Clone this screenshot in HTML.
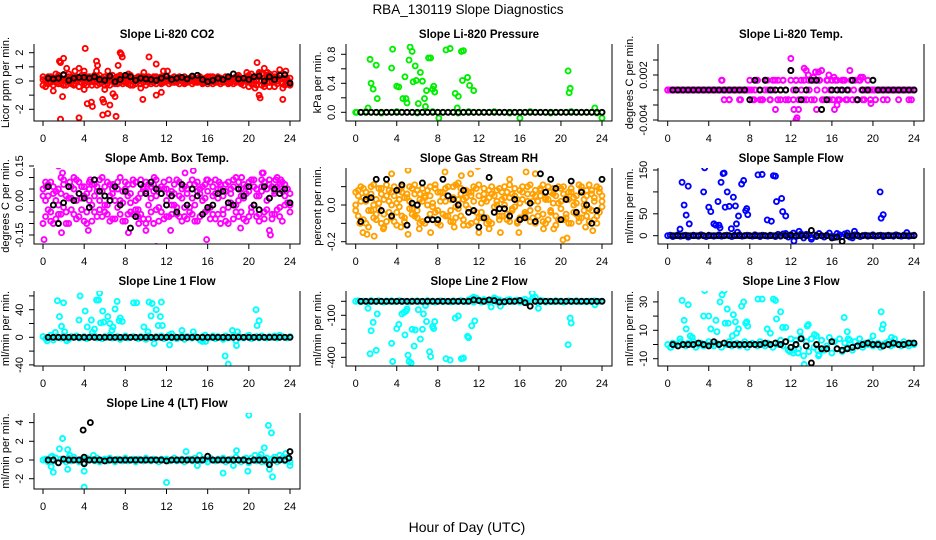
<!DOCTYPE html>
<html><head><meta charset="utf-8"><title>RBA_130119 Slope Diagnostics</title>
<style>
html,body{margin:0;padding:0;background:#fff;}
svg{display:block;font-family:"Liberation Sans",Arial,sans-serif;}
</style></head>
<body>
<svg id="chart" width="936" height="540" viewBox="0 0 936 540">
<text x="468" y="14" text-anchor="middle" font-size="13.5">RBA_130119  Slope Diagnostics</text>
<text x="467" y="532" text-anchor="middle" font-size="14">Hour of Day (UTC)</text>
</svg>
<script>
// ---------- shared data ----------
const xTicks = [0,4,8,12,16,20,24];
const blackHours = [0.5,1,1.5,2,2.5,3,3.5,4,4.5,5,5.5,6,6.5,7,7.5,8,8.5,9,9.5,10,10.5,11,11.5,12,12.5,13,13.5,14,14.5,15,15.5,16,16.5,17,17.5,18,18.5,19,19.5,20,20.5,21,21.5,22,22.5,23,23.5,24];

// ---------- P1 CO2 ----------
const p1Band = [-0.3,0.1,-0.2,0.3,0.2,-0.1,0.4,0.0,-0.3,0.2,0.5,-0.2,0.1,0.3,-0.4,0.2,0.0,0.3,-0.1,0.2,0.4,-0.3,0.1,0.2,0.0,-0.2,0.3,0.1,-0.1,0.2,0.4,-0.2,0.0,0.3,0.1,-0.3,0.2,0.0,0.3,-0.1,0.1,0.2,-0.2,0.3,0.0,0.1,-0.1,0.2,0.1,0.0,0.2,-0.1,0.1,0.2,0.0,-0.1,0.1,0.2,0.0,0.1,-0.1,0.2,0.0,0.1,0.3,-0.1,0.0,0.2,0.1,-0.2,0.1,0.0,0.2,-0.1,0.1,0.3,0.0,-0.1,0.2,0.1,0.4,-0.2,0.3,0.1,0.5,-0.3,0.2,0.4,-0.1,0.3,0.1,-0.2,0.4,0.2,-0.3,0.1,-0.2];
const p1Band2 = [0.1,-0.4,0.3,-0.1,0.0,0.5,-0.2,0.2,0.1,-0.3,0.3,0.0,-0.2,0.2,0.1,-0.1,0.4,-0.3,0.2,0.0,-0.1,0.3,-0.2,0.1,0.3,0.0,-0.3,0.2,0.1,-0.2,0.3,0.0,-0.1,0.2,-0.3,0.1,0.0,0.2,-0.2,0.3,0.0,-0.1,0.2,0.1,-0.2,0.0,0.3,-0.1,0.1,-0.2,0.2,0.0,-0.1,0.3,0.1,-0.2,0.0,0.1,-0.2,0.2,0.0,0.1,-0.1,0.2,-0.2,0.1,0.3,0.0,-0.1,0.2,0.0,0.1,-0.2,0.2,0.0,-0.1,0.3,0.1,-0.3,0.2,0.0,0.5,-0.2,0.3,0.6,0.0,-0.4,0.2,0.5,-0.1,0.3,0.0,0.4,-0.2,0.2,0.0,-0.3];
const p1Band3 = [0.3,0.0,-0.1,0.2,-0.3,0.1,0.3,-0.2,0.4,0.0,-0.1,0.3,-0.3,0.0,0.2,0.4,-0.2,0.1,0.3,-0.3,0.2,0.1,0.4,-0.1,-0.3,0.2,0.0,0.4,-0.2,0.3,-0.1,0.2,0.3,-0.2,0.4,0.0,-0.2,0.3,0.1,0.2,-0.3,0.3,0.0,-0.1,0.3,0.2,-0.2,0.0,0.3,0.2,-0.1,0.3,0.0,-0.2,0.2,0.3,-0.1,0.0,0.3,-0.1,0.2,0.3,-0.2,0.0,0.1,0.3,-0.2,-0.1,0.3,0.2,-0.1,0.3,-0.1,0.2,-0.2,0.0,0.4,-0.2,0.0,0.3,-0.4,0.2,0.0,-0.3,0.3,0.5,-0.2,-0.1,0.4,0.0,-0.4,0.3,0.1,-0.1,0.4,-0.2,0.2];
const p1OutHours = [1.7,1.6,2.0,1.0,1.9,1.7,2.3,3.1,3.5,3.5,4.1,4.0,4.3,4.7,4.8,4.0,5.2,5.3,5.2,5.8,5.9,6.0,5.8,6.3,6.3,6.5,6.8,7.0,7.1,7.3,7.5,7.6,7.7,8.3,9.5,9.7,9.8,10.3,11.0,11.0,11.5,11.7,12.1,20.8,21.0,21.1,20.6,21.5,21.8,22.5,23.0,23.3,23.3,22.0,23.6,19.8];
const p1OutVals = [1.3,1.4,1.6,-0.7,-1.1,-2.7,0.9,0.7,0.9,-2.6,2.3,0.7,-1.6,-1.5,-1.8,-0.6,1.4,1.1,0.7,-1.3,-1.5,-0.6,-2.4,-2.3,0.7,-1.7,-0.9,-1.1,-2.5,1.1,2.0,1.9,1.7,0.5,-0.5,-1.3,0.6,1.7,1.2,-1.0,-0.8,0.7,0.7,1.3,-1.0,-1.2,-0.5,0.9,0.6,0.5,0.8,-1.3,-0.5,-0.4,0.7,0.6];
const p1Black = [0.2,0.15,0.2,0.45,0.05,0.2,0.25,0.25,0.2,0.3,0.1,0.05,0.35,-0.05,0.1,0.4,0.3,0.05,0.2,0.15,0.1,0.05,0.2,0.35,0.1,0.2,0.25,0.15,0.35,0.4,0.1,-0.05,0.05,0.2,0.1,0.3,0.5,0.15,0.2,0.1,0.3,0.35,0.0,0.3,0.1,0.4,0.45,-0.15];

// ---------- P2 Pressure ----------
const p2Band = [0,0,0.01,0,0,-0.01,0,0,0.01,0,0,0,-0.01,0,0,0.01,0,0,0,0,-0.01,0,0.01,0,0,0,0,0.01,0,0,-0.01,0,0,0,0.01,0,0,0,-0.01,0,0,0,0.01,0,0,0,0,-0.01,0];
const p2OutHours = [0.1,1.2,1.4,1.5,1.7,2.0,2.1,3.5,3.6,4.0,4.2,4.6,4.8,4.9,5.0,5.2,5.3,5.5,5.6,5.8,5.9,6.1,6.3,6.5,6.7,6.8,6.9,7.1,7.3,7.5,7.6,7.7,8.1,8.8,9.2,9.7,9.9,10.0,10.3,10.4,10.5,10.9,11.1,11.5,16.0,20.7,20.8,20.9,23.3,24.0];
const p2OutVals = [0.0,0.06,0.73,0.4,0.32,0.65,0.19,0.61,0.87,0.36,0.35,0.19,0.49,0.19,0.13,0.72,0.9,0.84,0.42,0.64,0.44,0.12,0.55,0.43,0.19,0.08,0.3,0.75,0.75,0.32,0.36,0.28,-0.08,0.86,0.88,0.26,0.06,0.22,0.84,0.44,0.85,0.48,0.37,0.3,-0.08,0.57,0.27,0.33,0.06,-0.08];
const p2Black = [0,0,0,0,0,0,0,0,0,0,0,0,0,0,0,0,0,0,0,0,0,0,0,0,0,0,0,0,0,0,0,0,0,0,0,0,0,0,0,0,0,0,0,0,0,0,0,0];

// ---------- P3 Li-820 Temp ----------
const p3Band = [0,0,0,0,0,0,0,0,0,0,0,0,0,0,0,0,0,0,0,0,0,0.0013,-0.0013,0,-0.0013,0,0,0,-0.0013,0,0,0,
0.0013,-0.0013,0,0.0013,-0.0013,-0.0013,0.0013,0,-0.0013,0.0013,-0.0026,0.0013,-0.0013,0.0013,0,-0.0013,0.0026,-0.0013,0.0013,-0.0026,0.0013,-0.0013,0.0026,0.0013,-0.0013,0.0013,-0.0026,0.0013,0.0026,-0.0013,0.0013,-0.0013,0.0013,-0.0026,0.0013,-0.0013,0.0013,0.0013,-0.0013,0.0026,-0.0013,0.0013,-0.0013,0.0013,-0.0013,0,0.0013,-0.0013,0,
-0.0013,0,0,-0.0013,0,0,0,0,0,-0.0013,0,0,0,0,-0.0013,0];
const p3Band2 = [0,0,0,0,0,0,0,0,0,0,0,0,0,0,0,0,0,0,0,0,0,0,0,0,0,0,0,0,0,0,0,0,
0,-0.0013,0.0013,0,-0.0013,0,0.0013,-0.0013,0,0.0013,-0.0013,0,0.0013,-0.0013,-0.0013,0.0013,0,0.0013,-0.0013,0,0.0013,-0.0013,0,0.0013,-0.0013,0,0.0013,-0.0013,0,0.0013,0,-0.0013,0.0013,-0.0013,0,0.0013,-0.0013,0,0.0013,0,-0.0013,0.0013,0,-0.0013,0,0,0,
0,0,0,0,0,0,0,0,0,0,0,0,0,0,0,0];
const p3OutHours = [12.0,13.3,14.4,14.7,13.7,12.3,12.6,12.5,19.8,18.8,19.0,21.4,23.5,16.2,14.2,15.7,16.5,5.3,6.0,7.1];
const p3OutVals = [0.0042,0.0029,0.0024,0.0024,0.002,-0.0026,-0.0037,-0.004,-0.0018,0.0017,0.0017,-0.0013,-0.0013,0.0017,0.0017,0.002,-0.002,0.0013,-0.0013,-0.0013];
const p3Black = [0,0,0,0,0,0,0,0,0,0,0,0,0,0,0,-0.0013,0.0013,0,0.0013,0,0,0,0,0.0026,0,-0.0013,0,0.0013,0.0013,-0.0026,-0.0013,0,0,0,0,0.0013,-0.0013,0,0,0.0013,0,0,0,0,0,0,0,0];

// ---------- P4 Amb Box Temp ----------
const p4Band = [-0.1,0.0,0.07,-0.05,0.03,-0.08,0.05,0.1,-0.03,0.02,-0.1,0.06,-0.06,0.0,0.08,-0.04,-0.09,0.03,0.05,-0.02,0.07,-0.07,0.0,0.04,-0.05,0.08,0.02,-0.08,0.06,-0.03,0.1,-0.01,0.05,-0.06,0.03,0.07,-0.04,0.01,0.09,-0.08,0.04,-0.02,0.06,-0.1,0.02,0.05,-0.05,0.08,0.0,-0.07,0.04,0.07,-0.03,0.02,-0.09,0.06,0.03,-0.05,0.09,-0.02,0.04,-0.07,0.06,0.01,-0.04,0.08,-0.06,0.03,0.05,-0.1,0.02,0.07,-0.03,0.05,-0.08,0.1,0.0,-0.05,0.07,0.03,-0.07,0.09,-0.02,0.05,-0.09,0.04,0.08,-0.04,0.01,0.06,-0.06,0.1,-0.03,0.04,0.07,-0.01,0.03];
const p4Band2 = [0.05,-0.07,0.02,0.08,-0.1,0.04,-0.02,-0.06,0.09,-0.05,0.06,0.01,0.1,-0.08,0.03,0.06,0.02,-0.1,0.0,0.07,-0.05,0.04,0.09,-0.07,0.06,-0.02,-0.09,0.05,0.0,0.08,-0.06,0.04,-0.09,0.07,-0.01,-0.06,0.08,-0.07,0.03,0.05,-0.1,0.07,-0.05,0.04,0.09,-0.03,0.06,-0.08,0.05,0.03,-0.06,-0.02,0.09,-0.07,0.05,-0.03,-0.08,0.07,0.01,-0.09,0.08,0.03,-0.06,0.07,0.04,-0.08,0.02,0.09,-0.06,0.05,-0.04,-0.09,0.08,-0.01,0.06,-0.05,0.08,0.02,-0.08,0.06,0.04,-0.05,0.09,-0.07,0.02,0.06,-0.08,0.05,0.09,-0.06,0.03,-0.04,0.07,-0.09,0.02,0.05,-0.02];
const p4Band3 = [0.02,0.08,-0.04,-0.09,0.06,0.0,-0.06,0.03,0.07,-0.1,0.01,-0.04,0.05,0.09,-0.07,0.01,0.06,-0.05,0.08,-0.09,0.02,0.06,-0.04,0.1,-0.02,-0.06,0.07,0.03,-0.08,0.05,0.0,-0.09,0.08,0.02,-0.05,0.09,0.0,-0.04,-0.06,0.06,0.08,-0.08,0.01,0.07,-0.04,-0.09,0.03,0.05,-0.07,0.09,-0.02,0.03,-0.06,0.08,0.01,-0.07,0.05,-0.03,-0.06,0.07,-0.09,0.05,0.0,-0.05,0.09,-0.03,0.06,-0.08,0.01,0.07,-0.06,0.04,-0.1,0.03,0.09,-0.02,-0.07,0.05,0.01,-0.09,0.08,-0.03,0.06,0.02,-0.06,0.09,-0.05,0.0,0.07,-0.08,0.04,0.06,-0.07,0.08,-0.02,0.05,-0.05];
const p4OutHours = [0.1,1.5,1.8,1.9,4.4,4.6,8.3,10.0,10.8,11.0,12.4,14.6,15.9,15.9,19.2,19.3,21.3,21.4,22.0,22.1,22.6,13.8,0.3,2.6,6.8,9.3,17.1,23.1];
const p4OutVals = [-0.17,0.15,-0.14,0.12,-0.13,0.09,-0.14,-0.13,0.1,-0.2,-0.13,0.13,-0.17,0.09,-0.12,0.1,0.12,0.12,-0.13,-0.15,0.09,0.12,0.06,0.08,0.07,-0.1,0.08,0.09];
const p4Black = [0.06,-0.02,-0.1,-0.01,0.06,0.0,0.03,0.01,-0.03,0.09,0.04,0.02,0.0,0.06,-0.02,0.04,-0.12,-0.07,0.07,0.03,0.08,0.05,0.03,-0.02,0.02,-0.05,0.07,-0.02,0.05,0.02,-0.06,-0.03,-0.02,0.03,0.04,-0.01,-0.02,0.05,0.02,0.06,-0.02,-0.04,0.06,0.01,0.05,0.03,0.05,-0.01];

// ---------- P5 Gas Stream RH ----------
const p5Band = [-0.03,0.05,0.1,-0.08,0.02,-0.12,0.06,0.0,-0.05,0.09,-0.1,0.03,0.11,-0.04,0.07,-0.09,0.01,0.08,-0.06,0.04,-0.11,0.1,-0.02,0.06,-0.07,0.03,0.09,-0.1,0.0,0.05,-0.08,0.11,-0.03,0.07,-0.05,0.02,0.1,-0.09,0.04,-0.01,0.12,-0.06,0.03,0.08,-0.11,0.05,-0.03,0.09,-0.07,0.01,0.06,-0.1,0.04,0.1,-0.04,0.02,-0.08,0.07,0.0,-0.05,0.11,-0.02,0.05,-0.09,0.08,0.03,-0.06,0.1,-0.03,0.06,-0.1,0.02,0.09,-0.05,0.04,-0.08,0.07,0.01,-0.11,0.1,-0.02,0.06,-0.07,0.03,0.09,-0.04,0.05,-0.09,0.08,0.0,-0.06,0.11,-0.03,0.04,-0.1,0.07,0.02];
const p5Band2 = [0.07,-0.06,0.02,0.09,-0.1,0.04,-0.03,0.11,-0.08,0.01,0.06,-0.05,-0.09,0.08,0.0,0.05,-0.11,0.03,0.1,-0.07,0.04,-0.02,0.09,-0.06,0.08,-0.1,0.02,0.05,-0.08,0.1,0.01,-0.04,0.07,-0.11,0.04,0.09,-0.06,0.03,-0.09,0.11,-0.02,0.06,-0.08,0.0,0.07,-0.1,0.1,-0.04,0.05,-0.07,0.09,0.02,-0.09,0.06,-0.01,0.08,-0.06,0.03,0.1,-0.08,0.04,-0.03,0.09,-0.1,0.01,0.07,-0.05,0.02,0.11,-0.07,0.05,-0.02,0.08,-0.09,0.03,0.1,-0.04,0.06,-0.06,0.01,0.09,-0.08,0.04,-0.1,0.07,0.0,-0.05,0.11,-0.07,0.03,0.08,-0.02,0.06,-0.08,0.1,-0.04,0.05];
const p5Band3 = [0.0,0.08,-0.1,0.04,0.07,-0.03,0.1,-0.07,0.03,-0.02,0.09,-0.12,0.05,0.02,-0.07,0.1,-0.04,-0.01,0.07,-0.09,0.06,0.02,-0.05,0.11,-0.03,0.06,-0.09,0.04,0.08,-0.05,-0.01,0.09,-0.1,0.02,0.07,-0.06,0.05,-0.03,0.1,-0.07,0.03,0.09,-0.11,0.04,-0.02,0.07,0.02,-0.09,0.11,-0.04,0.03,-0.07,0.08,-0.1,0.05,0.0,0.09,-0.06,0.04,0.07,-0.09,0.06,-0.01,0.03,-0.07,0.1,-0.04,0.06,-0.09,0.02,0.08,-0.06,0.05,0.11,-0.1,0.03,-0.03,0.09,0.05,-0.08,0.02,0.1,-0.05,0.07,-0.1,0.04,0.01,-0.07,0.1,-0.03,0.05,-0.09,0.08,0.02,-0.06,0.09,-0.01];
const p5OutHours = [0.4,0.7,1.1,1.8,2.7,3.5,4.4,5.1,5.1,6.2,7.3,8.7,9.6,10.3,11.2,11.9,12.0,12.8,13.0,14.1,15.0,15.9,16.6,17.5,18.3,19.3,20.2,20.6,20.9,22.4,23.1];
const p5OutVals = [-0.1,-0.15,-0.16,-0.17,-0.13,0.17,-0.12,0.19,-0.16,-0.13,-0.15,0.18,-0.12,0.16,0.17,0.21,-0.15,-0.24,-0.13,-0.15,0.14,-0.15,0.18,0.17,-0.13,-0.13,-0.19,-0.18,0.24,-0.12,-0.14];
const p5Black = [-0.09,0.03,0.04,0.14,-0.03,0.14,-0.06,0.08,0.11,-0.11,0.01,0.0,0.12,-0.08,-0.08,-0.08,0.14,0.05,0.03,0.0,0.08,-0.04,-0.03,-0.12,-0.07,0.15,-0.04,-0.02,-0.02,-0.06,0.03,-0.08,-0.07,0.01,-0.09,0.17,0.07,0.14,0.09,-0.08,0.03,0.13,-0.04,0.07,0.0,-0.1,-0.03,0.14];

// ---------- P6 Sample Flow ----------
const p6Band = [0,1,-2,0,2,-1,0,1,-3,0,1,0,-1,2,0,-2,1,0,-1,0,2,-1,0,1,0,-2,1,0,2,-1,0,1,0,-1,2,0,-2,1,0,-1,1,0,-2,3,-1,4,5,-3,2,6,-2,0,4,-5,3,1,-4,2,-2,5,0,-3,1,6,-1,-4,5,2,-2,4,6,-3,-5,2,1,-2,0,1,-1,0,2,-1,0,1,-2,0,1,0,-1,2,0,-1,1,0,-1,0,1];
const p6OutHours = [1.2,1.4,1.6,1.8,2.0,2.1,3.5,3.6,4.0,4.2,4.5,4.7,4.9,5.0,5.1,5.2,5.4,5.5,5.6,5.8,6.0,6.2,6.4,6.6,6.7,6.8,6.9,7.2,7.4,7.6,7.7,7.8,8.8,9.2,9.7,10.1,10.3,10.5,10.6,11.1,11.2,11.5,12.3,12.8,14.0,18.2,20.7,20.8,21.0,23.3];
const p6OutVals = [15,122,70,47,113,27,100,155,65,55,27,24,78,24,18,122,142,143,65,100,67,16,88,68,27,8,45,118,126,57,62,48,139,140,36,33,137,136,78,85,55,45,-12,10,-8,10,100,40,48,7];
const p6Black = [0,0,0,0,0,0,0,0,0,0,0,0,0,0,0,0,0,0,0,0,0,0,0,1,0,0,0,12,0,0,0,-5,-3,-13,0,0,0,0,0,0,0,0,0,0,0,0,0,0];

// ---------- P7 Line 1 Flow ----------
const p7Band = [1,-2,0,3,-4,1,0,-1,2,0,-3,1,0,2,-1,0,1,-2,0,1,2,-1,0,-2,1,0,3,-1,0,1,-3,0,2,-1,0,1,0,-2,1,0,-3,2,0,-1,1,0,2,-2,0,3,-1,1,-2,0,2,-3,1,0,-1,2,0,-4,1,3,-1,0,2,-2,1,0,-3,2,-1,0,1,-5,2,0,-1,1,3,-2,0,1,-1,2,0,-1,1,0,2,-1,0,1,0,-1,1];
const p7OutHours = [0.4,1.2,1.4,1.6,1.8,2.0,2.1,2.3,3.5,3.6,4.1,4.3,4.7,4.8,5.0,5.2,5.4,5.5,5.6,5.8,5.9,6.3,6.5,6.7,6.8,7.0,7.2,7.4,7.5,7.7,8.8,9.1,9.8,10.2,10.3,10.5,10.6,10.8,11.0,11.2,11.4,11.5,11.6,12.3,12.5,13.5,14.6,15.5,15.8,17.7,18.0,18.4,18.8,18.9,20.7,20.8,21.0,23.0];
const p7OutVals = [-5,7,53,30,16,50,8,-5,25,60,38,15,25,7,12,54,54,64,21,38,22,30,20,10,15,41,52,24,28,23,50,50,15,8,51,31,49,-9,40,17,30,51,17,-11,5,10,8,-6,-6,-27,-39,10,-12,8,40,17,24,3];
const p7Black = [0,0,0,0,0,0,0,0,0,0,0,0,0,0,0,0,0,0,0,0,0,0,0,0,0,0,0,0,0,0,0,0,0,0,0,0,0,0,0,0,0,0,0,0,0,0,0,0];

// ---------- P8 Line 2 Flow ----------
const p8Band = [0,3,-4,2,0,-3,5,0,-2,4,0,-5,2,0,3,-2,0,4,-3,1,0,-4,2,0,3,-1,0,-3,4,0,2,-5,0,3,-2,1,0,-4,3,0,-2,5,0,-3,10,15,-6,20,8,-5,12,4,-8,6,14,-4,10,2,-6,8,12,-3,5,9,-5,7,15,-8,4,22,30,-10,6,3,-5,2,0,-3,4,0,2,-5,0,3,-2,0,4,-3,1,0,-4,2,0,3,-1,0,2];
const p8OutHours = [1.2,1.4,1.5,1.7,2.0,2.1,3.5,3.6,4.0,4.2,4.5,4.7,4.8,4.9,5.0,5.1,5.2,5.4,5.5,5.7,5.8,6.1,6.3,6.5,6.6,6.8,6.9,7.2,7.3,7.5,7.6,7.7,8.8,9.2,9.7,10.0,10.3,10.5,10.9,11.0,11.3,11.6,11.8,13.2,13.7,14.1,17.2,17.8,20.7,20.9,21.0,23.3,11.3,11.5,13.5];
const p8OutVals = [-50,-375,-210,-150,-350,-90,-300,-430,-195,-165,-90,-80,-240,-70,-55,-385,-430,-440,-200,-320,-205,-60,-270,-200,-90,-30,-145,-360,-395,-180,-195,-145,-410,-420,-120,-105,-410,-405,-250,-260,-175,-140,20,-40,15,-35,60,-50,-310,-120,-155,-25,20,30,25];
const p8Black = [0,0,0,0,0,0,0,0,0,0,0,0,0,0,0,0,0,0,0,0,0,0,10,5,0,10,5,-5,-3,0,0,5,-10,-35,0,0,0,0,0,0,0,0,0,0,0,0,0,0];

// ---------- P9 Line 3 Flow ----------
const p9Band = [0,-2,1,0,-1,2,0,-1,1,0,2,-2,0,1,-1,0,2,0,-1,1,0,-2,1,0,2,-1,0,1,-1,0,2,-2,0,1,0,-1,2,0,-1,1,0,-2,1,0,3,-1,2,-4,4,-6,3,-3,5,-8,2,-5,4,-2,6,-7,3,-4,-1,5,-6,2,-3,4,-5,1,-2,3,-4,2,-1,0,-2,1,0,2,-1,0,1,-2,0,1,2,-1,0,1,0,-1,2,0,-1,1,0];
const p9OutHours = [0.3,1.2,1.4,1.6,1.8,2.0,2.2,2.4,3.5,3.6,4.0,4.2,4.7,4.8,5.1,5.3,5.5,5.6,5.8,5.9,6.3,6.4,6.6,6.7,6.9,7.2,7.4,7.6,7.7,7.8,8.8,9.2,9.7,10.0,10.3,10.5,10.6,11.0,11.2,11.5,11.9,12.3,12.7,12.9,13.3,13.6,13.7,14.3,14.6,14.7,17.2,17.5,17.6,18.7,20.0,20.8,20.9,21.0,21.8,22.1];
const p9OutVals = [-2,4,31,17,11,28,6,5,20,38,20,11,17,9,30,35,38,15,25,15,6,21,16,8,11,27,30,15,16,13,32,32,11,8,32,31,18,23,12,12,-5,-4,-6,9,-14,13,14,7,-4,-8,19,9,4,4,6,23,11,14,5,4];
const p9Black = [0,-1,0,0,0,1,0,-1,2,0,1,0,0,0,0,0,0,0,1,0,1,0,2,-2,0,4,-1,-13,0,-3,-3,2,-3,-4,-3,-2,-1,0,1,0,0,-1,0,1,0,0,1,1];

// ---------- P10 Line 4 (LT) Flow ----------
const p10Band = [0,0.1,-0.2,0.3,-0.1,0.2,-0.3,0.1,0,-0.2,0.2,-0.1,0.3,0,-0.2,0.1,-0.3,0.2,0,0.1,-0.1,0.2,-0.2,0,0.1,-0.1,0.2,0,-0.2,0.1,0,-0.1,0.2,-0.1,0,0.1,-0.2,0.1,0,-0.1,0.2,0,-0.1,0.1,0,-0.2,0.1,0,0.1,-0.1,0,0.2,-0.1,0,0.1,-0.2,0,0.1,-0.1,0.2,0,-0.1,0.1,0,-0.2,0.2,0,-0.1,0.1,0,0.2,-0.2,0,0.1,-0.1,0.3,0,-0.2,0.1,0.2,-0.3,0.2,0,-0.1,0.3,-0.2,0.1,0.2,-0.3,0.1,0.3,-0.2,0,0.2,-0.1,0.3,-0.2];
const p10OutHours = [0.8,1.0,0.9,1.6,1.9,2.4,2.4,2.6,4.0,4.0,4.9,12.0,13.9,15.0,15.2,17.5,18.5,18.8,19.9,20.0,20.6,21.2,21.5,21.7,21.9,22.2,22.0,22.3,23.0,23.6,24.0];
const p10OutVals = [-0.7,-1.3,0.4,1.2,2.3,1.1,-1.0,0.5,-1.2,-2.9,0.5,-2.4,0.9,-0.6,0.5,-1.4,-0.6,1.0,-1.2,4.8,0.5,0.6,1.3,-0.2,3.7,2.9,-1.0,-1.8,0.5,0.7,-0.6];
const p10Black = [0,0,-0.3,0.1,0,0,0,0.3,0,0,0,-0.1,0,0,0,0,0,0,0,0,0,0,0,-0.1,0,0,0,0,0,0,0,0.4,0,0,0,0,0,0,0,-0.1,0,0,0,-0.5,0,0,0,0.9];
const p10BlackOutHours = [3.9,4.6,4.0,23.9];
const p10BlackOutVals = [3.2,4.0,-0.4,0.2];

// ---------- panel layout (pixel calibration, not data) ----------
const NS = "http://www.w3.org/2000/svg";
const svg = document.getElementById('chart');
const colLeft = [34, 346, 658], colRight = [300, 612, 924];
const colX0 = [43, 355.7, 667.7], colX24 = [290, 602, 914];
const rowTop = [44, 168, 291, 413], rowBottom = [121, 244, 366, 489];

const panels = [
 {name:'co2', title:'Slope Li-820 CO2', ylab:'Licor ppm per min.', col:0,row:0, color:'#ff0000', v0:0,p0:81,v1:2,p1:52.7,
  ticks:[-2,-1,0,1,2], labels:['-2','','0','1','2'], bands:[p1Band,p1Band2,p1Band3], outH:p1OutHours,outV:p1OutVals, black:p1Black},
 {name:'pressure', title:'Slope Li-820 Pressure', ylab:'kPa per min.', col:1,row:0, color:'#00ee00', v0:0,p0:112.3,v1:0.8,p1:54.3,
  ticks:[0,0.2,0.4,0.6,0.8], labels:['0.0','','0.4','','0.8'], bands:[p2Band], outH:p2OutHours,outV:p2OutVals, black:p2Black},
 {name:'li820-temp', title:'Slope Li-820 Temp.', ylab:'degrees C per min.', col:2,row:0, color:'#ff00ff', v0:0,p0:90,v1:0.002,p1:75,
  ticks:[-0.004,-0.002,0,0.002,0.004], labels:['-0.004','','','0.002',''], bands:[p3Band,p3Band2], outH:p3OutHours,outV:p3OutVals, black:p3Black},
 {name:'amb-box-temp', title:'Slope Amb. Box Temp.', ylab:'degrees C per min.', col:0,row:1, color:'#ff00ff', v0:0,p0:200.5,v1:0.15,p1:166,
  ticks:[-0.15,-0.1,-0.05,0,0.05,0.1,0.15], labels:['-0.15','','','0.00','','','0.15'], bands:[p4Band,p4Band2,p4Band3], outH:p4OutHours,outV:p4OutVals, black:p4Black},
 {name:'gas-stream-rh', title:'Slope Gas Stream RH', ylab:'percent per min.', col:1,row:1, color:'#ffa000', v0:0,p0:205,v1:-0.2,p1:241.7,
  ticks:[-0.2,-0.1,0,0.1], labels:['-0.2','','0.0',''], bands:[p5Band,p5Band2,p5Band3], outH:p5OutHours,outV:p5OutVals, black:p5Black},
 {name:'sample-flow', title:'Slope Sample Flow', ylab:'ml/min per min.', col:2,row:1, color:'#0000ff', v0:0,p0:235.7,v1:150,p1:170,
  ticks:[0,50,100,150], labels:['0','50','','150'], bands:[p6Band], outH:p6OutHours,outV:p6OutVals, black:p6Black},
 {name:'line1-flow', title:'Slope Line 1 Flow', ylab:'ml/min per min.', col:0,row:2, color:'#00ffff', v0:0,p0:337.3,v1:40,p1:309.7,
  ticks:[-40,-20,0,20,40,60], labels:['-40','','0','','40',''], bands:[p7Band], outH:p7OutHours,outV:p7OutVals, black:p7Black},
 {name:'line2-flow', title:'Slope Line 2 Flow', ylab:'ml/min per min.', col:1,row:2, color:'#00ffff', v0:0,p0:301.3,v1:-100,p1:315.3,
  ticks:[0,-100,-200,-300,-400], labels:['','-100','','','-400'], bands:[p8Band], outH:p8OutHours,outV:p8OutVals, black:p8Black},
 {name:'line3-flow', title:'Slope Line 3 Flow', ylab:'ml/min per min.', col:2,row:2, color:'#00ffff', v0:0,p0:344.5,v1:10,p1:330.3,
  ticks:[-10,0,10,20,30], labels:['-10','','10','','30'], bands:[p9Band], outH:p9OutHours,outV:p9OutVals, black:p9Black},
 {name:'line4-flow', title:'Slope Line 4 (LT) Flow', ylab:'ml/min per min.', col:0,row:3, color:'#00ffff', v0:0,p0:460,v1:2,p1:441.3,
  ticks:[-2,0,2,4], labels:['-2','0','2','4'], bands:[p10Band], outH:p10OutHours,outV:p10OutVals, black:p10Black, blackOutH:p10BlackOutHours, blackOutV:p10BlackOutVals}
];

function mk(tag, attrs, parent){
  const el = document.createElementNS(NS, tag);
  for (const k in attrs) el.setAttribute(k, attrs[k]);
  parent.appendChild(el);
  return el;
}

panels.forEach(function(p){
  const L = colLeft[p.col], R = colRight[p.col], T = rowTop[p.row], B = rowBottom[p.row];
  const x0 = colX0[p.col], x24 = colX24[p.col];
  const xs = function(h){ return x0 + h*(x24-x0)/24; };
  const ys = function(v){ return p.p0 + (v-p.v0)*(p.p1-p.p0)/(p.v1-p.v0); };

  const g = mk('g', {}, svg);
  
  

  const title = mk('text', {x:(L+R)/2, y:T-6, 'text-anchor':'middle', 'font-size':'11.5', 'font-weight':'bold'}, g);
  title.textContent = p.title;
  
  

  const yl = mk('text', {x:0, y:0, 'text-anchor':'middle', 'font-size':'11', transform:'translate(' + (L-25) + ',' + ((T+B)/2) + ') rotate(-90)'}, g);
  yl.textContent = p.ylab;
  
  

  const cid = 'clip-' + p.name;
  const cp = mk('clipPath', {id:cid}, g);
  mk('rect', {x:L, y:T, width:R-L, height:B-T}, cp);

  const marks = mk('g', {'clip-path':'url(#' + cid + ')', fill:'none', 'stroke-width':'1.9'}, g);
  
  

  p.bands.forEach(function(band){
    band.forEach(function(v, i){
      const h = i*24/(band.length-1);
      const c = mk('circle', {cx:xs(h), cy:ys(v), r:2.5, stroke:p.color}, marks);
      
      
    });
  });
  p.outH.forEach(function(h, i){
    const c = mk('circle', {cx:xs(h), cy:ys(p.outV[i]), r:2.5, stroke:p.color}, marks);
    
    
  });
  p.black.forEach(function(v, i){
    const c = mk('circle', {cx:xs(blackHours[i]), cy:ys(v), r:2.5, stroke:'#000'}, marks);
    
    
  });
  if (p.blackOutH) p.blackOutH.forEach(function(h, i){
    const c = mk('circle', {cx:xs(h), cy:ys(p.blackOutV[i]), r:2.5, stroke:'#000'}, marks);
    
    
  });

  const ax = mk('path', {d:'M'+L+','+T+'V'+B+'H'+R+'V'+T, fill:'none', stroke:'#000', 'stroke-width':'1'}, g);
  
  

  xTicks.forEach(function(t){
    const x = xs(t);
    mk('line', {x1:x, x2:x, y1:B, y2:B+5, stroke:'#000'}, g);
    const tl = mk('text', {x:x, y:B+21, 'text-anchor':'middle', 'font-size':'11'}, g);
    tl.textContent = t;
    
    
  });
  p.ticks.forEach(function(t, i){
    const y = ys(t);
    mk('line', {x1:L-5, x2:L, y1:y, y2:y, stroke:'#000'}, g);
    if (p.labels[i]) {
      const tl = mk('text', {x:0, y:0, 'text-anchor':'middle', 'font-size':'11', transform:'translate(' + (L-11) + ',' + y + ') rotate(-90)'}, g);
      tl.textContent = p.labels[i];
      
      
    }
  });
});
</script>
</body></html>
